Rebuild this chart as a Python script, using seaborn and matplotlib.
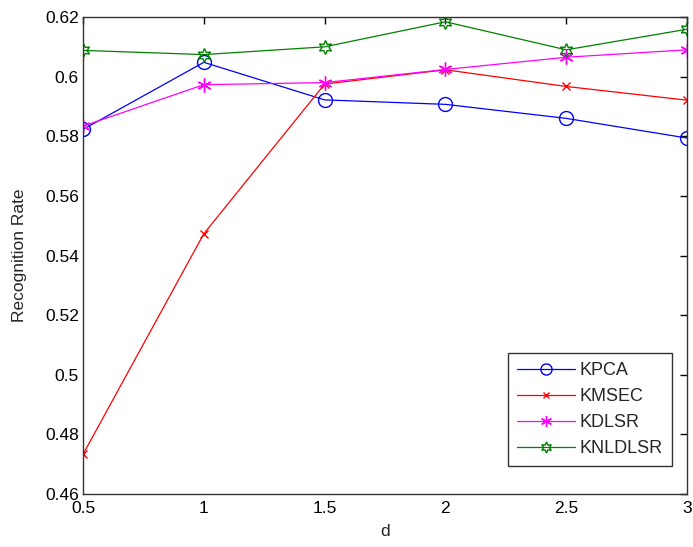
import matplotlib
matplotlib.use("Agg")
import matplotlib.pyplot as plt
import seaborn as sns
import pandas as pd

d_values = [0.5, 1.0, 1.5, 2.0, 2.5, 3.0]
kpca = [0.5823, 0.6048, 0.5922, 0.5907, 0.5860, 0.5794]
kmsec = [0.4733, 0.5473, 0.5975, 0.6023, 0.5967, 0.5921]
kdlsr = [0.5834, 0.5973, 0.5980, 0.6024, 0.6065, 0.6090]
knldlsr = [0.6088, 0.6074, 0.6100, 0.6184, 0.6090, 0.6159]
series_names = ["KPCA", "KMSEC", "KDLSR", "KNLDLSR"]
x_ticks = [0.5, 1, 1.5, 2, 2.5, 3]
x_tick_labels = ["0.5", "1", "1.5", "2", "2.5", "3"]
y_ticks = [0.46, 0.48, 0.5, 0.52, 0.54, 0.56, 0.58, 0.6, 0.62]
y_tick_labels = ["0.46", "0.48", "0.5", "0.52", "0.54", "0.56", "0.58", "0.6", "0.62"]

sns.set_style("white")
plt.rcParams['font.family'] = ['Liberation Sans', 'DejaVu Sans']

df = pd.DataFrame({
    "d": d_values * 4,
    "rate": kpca + kmsec + kdlsr + knldlsr,
    "method": sum([[n] * len(d_values) for n in series_names], []),
})

colors = {"KPCA": (0, 0, 1), "KMSEC": (1, 0, 0), "KDLSR": (1, 0, 1), "KNLDLSR": (0, 0.5, 0)}
styles = {
    "KPCA": dict(marker="o", markersize=10, markerfacecolor="none"),
    "KMSEC": dict(marker="x", markersize=6),
    "KDLSR": dict(marker=(6, 2, 0), markersize=10),
    "KNLDLSR": dict(marker=(6, 1, 0), markersize=10, markerfacecolor="none"),
}

fig = plt.figure(figsize=(6.93, 5.47), dpi=100)
ax = fig.add_axes([0.1198, 0.0969, 0.8716, 0.872])

for name in series_names:
    sub = df[df["method"] == name]
    sns.lineplot(data=sub, x="d", y="rate", ax=ax, color=colors[name], label=name,
                 linewidth=0.9, markeredgewidth=1.0, markeredgecolor=colors[name],
                 **styles[name])

ax.set_xlim(0.5, 3)
ax.set_ylim(0.46, 0.62)
ax.set_xticks(x_ticks)
ax.set_xticklabels(x_tick_labels)
ax.set_yticks(y_ticks)
ax.set_yticklabels(y_tick_labels)
ax.tick_params(direction="in", length=5, width=1, top=True, right=True, labelsize=12.5,
               colors="black")
ax.tick_params(axis="x", pad=5)
ax.tick_params(axis="y", pad=3)
for sp in ax.spines.values():
    sp.set_visible(True)
    sp.set_color("#333333")
    sp.set_linewidth(1.0)
ax.set_xlabel("d", fontsize=12.5)
ax.set_ylabel("Recognition Rate", fontsize=12.5)
ax.yaxis.set_label_coords(-0.093, 0.5)
ax.xaxis.set_label_coords(0.5, -0.062)
ax.grid(False)

leg = ax.legend(loc="lower right", bbox_to_anchor=(0.975, 0.0587), borderaxespad=0,
                fontsize=13, frameon=True, fancybox=False, edgecolor="#333333",
                framealpha=1, handlelength=3.2, borderpad=0.5, labelspacing=0.5,
                handletextpad=0.25, markerscale=0.8)
leg.get_frame().set_linewidth(1.0)

fig.savefig("out.png", dpi=100)
